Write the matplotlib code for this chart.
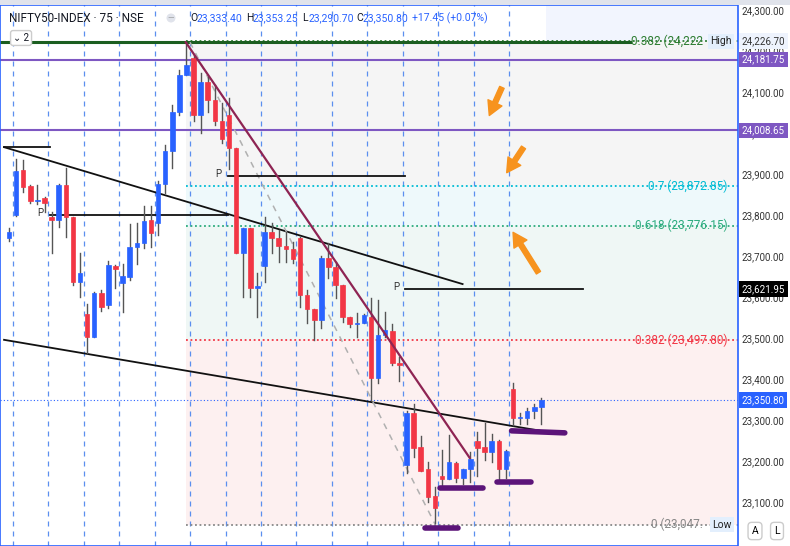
import matplotlib
matplotlib.use("Agg")
import matplotlib.pyplot as plt
from matplotlib.patches import Rectangle

plt.rcParams['font.family'] = ['Roboto', 'DejaVu Sans']

opens = [23746,23802,23912,23873,23836,23844,23798,23790,23876,23798,23639,23561,23505,23612,23583,23678,23637,23651,23724,23734,
         23790,23783,23878,23958,24054,24144,24185,24046,24127,24083,24032,24046,23966,23710,23771,23624,23678,23761,23746,23727,
         23720,23746,23607,23573,23546,23698,23676,23632,23554,23537,23539,23554,23405,23510,23520,23441,23193,23319,23237,23183,
         23117,23166,23159,23198,23161,23183,23251,23237,23224,23251,23183,23378,23307,23307,23324,23334]
closes = [23761,23910,23871,23837,23839,23832,23790,23876,23798,23639,23661,23505,23612,23578,23681,23670,23654,23724,23734,23788,
          23759,23878,23958,24054,24144,24168,24046,24127,24083,24032,23988,23966,23710,23771,23624,23629,23761,23746,23727,23720,
          23695,23607,23573,23546,23698,23676,23632,23554,23537,23539,23559,23405,23510,23522,23441,23436,23319,23234,23178,23115,
          23088,23159,23200,23161,23183,23207,23234,23224,23251,23183,23227,23307,23310,23324,23334,23351]
highs = [23770,23939,23937,23875,23876,23846,23810,23878,23917,23798,23710,23585,23615,23620,23690,23680,23683,23780,23783,23824,
         23824,23885,23973,24071,24156,24224,24193,24149,24139,24120,24076,24088,23966,23771,23771,23661,23798,23783,23766,23761,
         23737,23750,23620,23573,23702,23734,23688,23632,23554,23563,23561,23600,23595,23566,23537,23456,23324,23341,23263,23200,
         23139,23229,23266,23200,23183,23224,23273,23295,23268,23253,23229,23393,23319,23331,23341,23356]
lows = [23740,23800,23859,23832,23830,23810,23710,23773,23749,23632,23602,23466,23505,23568,23575,23624,23566,23645,23683,23722,
        23725,23754,23856,23917,24046,24144,24032,24002,24054,24022,23978,23915,23710,23602,23602,23554,23639,23710,23688,23688,
        23685,23578,23539,23498,23527,23649,23600,23541,23530,23505,23539,23351,23393,23505,23437,23397,23173,23212,23178,23102,
        23051,23141,23159,23151,23146,23151,23166,23205,23200,23156,23161,23290,23293,23293,23307,23293]

fib_levels = [24226.70, 23872.85, 23776.15, 23497.80, 23047.00]
fib_labels = ["0.382 (24,222", "0.7 (23,872.85)", "0.618 (23,776.15)", "0.382 (23,497.80)", "0 (23,047."]
fib_colors = ["#2e7d32", "#00bcd4", "#2bab7d", "#f23645", "#888888"]
hlines_purple = [24181.75, 24008.65]
yticks = [24300, 24200, 24100, 24000, 23900, 23800, 23700, 23600, 23500, 23400, 23300, 23200, 23100]
last_close = 23350.80
pivot_level = 23621.95

W, H = 790, 546
fig = plt.figure(figsize=(W/100, H/100), dpi=100)
ax = fig.add_axes([0, 0, 738/W, 1])
XMIN, XMAX = -1.27, 102.7
YMIN, YMAX = 22995, 24327
ax.set_xlim(XMIN, XMAX); ax.set_ylim(YMIN, YMAX)
for s in ax.spines.values():
    s.set_visible(False)
ax.set_xticks([]); ax.set_yticks([])

FS = 24.9  # fib start index
xf = (FS - XMIN) / (XMAX - XMIN)
ax.axhspan(23872.85, 24226.70, xmin=xf, color="#f5f5f5", zorder=0, lw=0)
ax.axhspan(23776.15, 23872.85, xmin=xf, color="#eef9fb", zorder=0, lw=0)
ax.axhspan(23497.80, 23776.15, xmin=xf, color="#eff7f5", zorder=0, lw=0)
ax.axhspan(23047.0, 23497.80, xmin=xf, color="#fdf0f0", zorder=0, lw=0)
ax.axhspan(24226.70, YMAX, xmin=0.74, color="#f2f5fe", zorder=0, lw=0)

for k in range(15):
    ax.axvline(0.5 + 5*k, color="#5b8fef", ls=(0, (4, 4)), lw=0.9, zorder=1)

for lv, lab, c in zip(fib_levels, fib_labels, fib_colors):
    ax.plot([FS, XMAX], [lv, lv], color=c, ls=(0, (1, 1.5)), lw=1.3, zorder=2)
    xr = 97.7 if (lab.startswith("0 ") or lab.startswith("0.382 (24")) else 101.2
    ax.text(xr, lv, lab, color=c, fontsize=8.5, ha="right", va="center", zorder=6)
ax.plot([XMIN, 87.5], [24224, 24224], color="#1b5e20", lw=2.2, zorder=2)
for lv in hlines_purple:
    ax.plot([XMIN, XMAX], [lv, lv], color="#7e57c2", lw=1.5, zorder=2)
ax.plot([XMIN, XMAX], [last_close, last_close], color="#2962ff", ls=(0, (1, 2)), lw=0.8, zorder=2)
for lv, lab in [(24226.7, "High"), (23047, "Low")]:
    ax.text(101.8, lv, lab, fontsize=7.5, ha="right", va="center", color="#222",
            bbox=dict(boxstyle="square,pad=0.25", fc="#e3effd", ec="none"), zorder=7)

ax.plot([-0.7, 63.9], [23968, 23634], color="#111", lw=1.3, zorder=3)
ax.plot([-0.7, 5.8], [23968, 23968], color="#111", lw=1.3, zorder=3)
ax.plot([-0.7, 76.6], [23498, 23271], color="#111", lw=1.3, zorder=3)
ax.plot([24.9, 64.9], [24224, 23210], color="#8e2453", lw=1.6, zorder=5)
ax.plot([25.5, 60.0], [24224, 23049], color="#b0b0b0", ls=(0, (4, 4)), lw=1.1, zorder=3)
for x0, x1, lv, lx in [(5.8, 30.8, 23802, 4.4), (30.8, 55.8, 23898, 29.5), (55.8, 80.8, 23622, 54.5)]:
    ax.plot([x0, x1], [lv, lv], color="#111", lw=1.3, zorder=3)
    ax.text(lx, lv + 5, "P", fontsize=7, ha="center", va="center", color="#333", zorder=6)
for x0, x1, y0, y1 in [(58.6, 63.2, 23039, 23039), (60.7, 66.8, 23137, 23137),
                       (68.7, 73.5, 23151, 23151), (70.8, 78.3, 23276, 23271)]:
    ax.plot([x0, x1], [y0, y1], color="#5c1479", lw=4, solid_capstyle="round", zorder=6)
for (tx, ty), (hx, hy) in [((69.6, 24120), (67.5, 24039)), ((72.7, 23973), (69.9, 23900)),
                           ((74.8, 23656), (70.8, 23766))]:
    ax.annotate("", xy=(hx, hy), xytext=(tx, ty),
                arrowprops=dict(arrowstyle="simple,head_width=1.1,head_length=1.0,tail_width=0.35",
                                fc="#f7931e", ec="#f7931e"), zorder=7)

for i, (o, c, h, l) in enumerate(zip(opens, closes, highs, lows)):
    col = "#2962ff" if c >= o else "#f23645"
    ax.plot([i, i], [l, h], color="#555", lw=1, zorder=4)
    bot, top = min(o, c), max(o, c)
    ax.add_patch(Rectangle((i - 0.32, bot), 0.64, max(top - bot, 2), fc=col, ec=col, lw=0.5, zorder=4.5))

tr = ax.get_yaxis_transform()
for t in yticks:
    ax.text(1.005, t, f"{t:,.2f}", transform=tr, fontsize=7, color="#333", va="center", ha="left", clip_on=False)
def tag(v, fc, tc="white"):
    ax.text(1.005, v, f"{v:,.2f}", transform=tr, fontsize=7, color=tc, va="center", ha="left", clip_on=False,
            bbox=dict(boxstyle="square,pad=0.3", fc=fc, ec="none"), zorder=8)
tag(24226.70, "#eef3fd", "#333")
tag(24181.75, "#7e57c2")
tag(24008.65, "#7e57c2")
tag(pivot_level, "#000000")
tag(last_close, "#2962ff")

fig.patches.append(Rectangle((0, 0), 738/W, 1 - 5/H, transform=fig.transFigure, fill=False, ec="#2962ff", lw=1.2))
fig.patches.append(Rectangle((0, 1 - 5/H), 1, 5/H, transform=fig.transFigure, fc="#e0e3eb", ec="none"))
fig.text(9/W, 1 - 18/H, "NIFTY50-INDEX · 75 · NSE", fontsize=8.5, color="#131722", va="center")
fig.text(171/W, 1 - 18/H, "—", fontsize=6, color="#888", va="center", ha="center",
         bbox=dict(boxstyle="circle,pad=0.15", fc="#e0e3eb", ec="none"))
for lab, val, x in [("O", "23,333.40", 190), ("H", "23,353.25", 246), ("L", "23,290.70", 302),
                    ("C", "23,350.80", 356), ("", "+17.45 (+0.07%)", 412)]:
    if lab:
        fig.text(x/W, 1 - 18/H, lab, fontsize=7.5, color="#131722", va="center")
        x += 7
    fig.text(x/W, 1 - 18/H, val, fontsize=7.5, color="#2962ff", va="center")
fig.text(13/W, 1 - 38/H, "⌄ 2", fontsize=7, color="#131722", va="center",
         bbox=dict(boxstyle="round,pad=0.25", fc="white", ec="#ccc"))
for lbl, xx in [("A", 755), ("L", 777)]:
    fig.text(xx/W, 1 - 531/H, lbl, fontsize=7.5, ha="center", va="center",
             bbox=dict(boxstyle="round,pad=0.35", fc="white", ec="#ccc"))

fig.savefig("out.png", dpi=100)
